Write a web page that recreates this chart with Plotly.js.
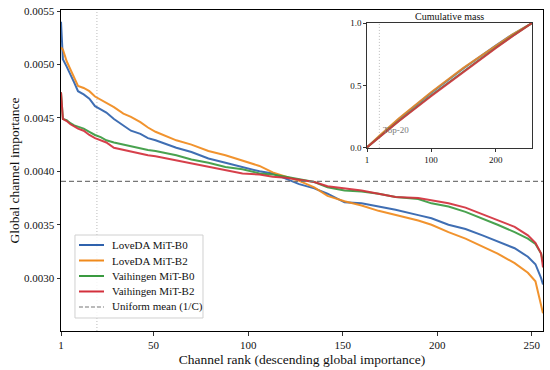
<!DOCTYPE html>
<html>
<head>
<meta charset="utf-8">
<script src="https://cdn.plot.ly/plotly-3.0.1.min.js"></script>
<style>html,body{margin:0;padding:0;background:#fff;}#chart{width:550px;height:370px;}</style>
</head>
<body>
<div id="chart"></div>
<script>
// ---- data ----
const seriesNames = ["LoveDA MiT-B0", "LoveDA MiT-B2", "Vaihingen MiT-B0", "Vaihingen MiT-B2"];
const uniformName = "Uniform mean (1/C)";
const ranks = [1,2,4,6,8,10,13,16,19,22,25,29,34,38,43,47,51,57,62,70,79,88,97,106,113,120,127,135,142,151,160,169,178,190,197,206,215,224,232,241,248,252,255,256];
const loveB0 = [0.00540,0.00505,0.00498,0.00491,0.00483,0.00475,0.00472,0.00468,0.00461,0.00458,0.00455,0.00449,0.00443,0.00438,0.00435,0.00431,0.00429,0.00425,0.00422,0.00418,0.00412,0.00408,0.00404,0.00400,0.00398,0.00393,0.00388,0.00384,0.00379,0.00371,0.00370,0.00367,0.00364,0.00359,0.00356,0.00350,0.00346,0.00340,0.00334,0.00328,0.00320,0.00313,0.00300,0.00294];
const loveB2 = [0.00516,0.00514,0.00503,0.00495,0.00487,0.00480,0.00478,0.00475,0.00470,0.00467,0.00464,0.00460,0.00454,0.00451,0.00446,0.00441,0.00437,0.00433,0.00429,0.00425,0.00419,0.00415,0.00410,0.00405,0.00399,0.00395,0.00391,0.00385,0.00377,0.00372,0.00368,0.00363,0.00359,0.00354,0.00350,0.00343,0.00337,0.00330,0.00323,0.00314,0.00305,0.00297,0.00275,0.00267];
const vaiB0 = [0.00474,0.00449,0.00448,0.00445,0.00443,0.00442,0.00440,0.00437,0.00434,0.00432,0.00429,0.00427,0.00425,0.00423,0.00421,0.00420,0.00419,0.00417,0.00415,0.00411,0.00408,0.00404,0.00402,0.00398,0.00397,0.00395,0.00393,0.00390,0.00385,0.00382,0.00381,0.00379,0.00376,0.00374,0.00370,0.00367,0.00362,0.00356,0.00350,0.00343,0.00337,0.00332,0.00323,0.00315];
const vaiB2 = [0.00474,0.00449,0.00447,0.00444,0.00442,0.00440,0.00438,0.00434,0.00431,0.00429,0.00427,0.00422,0.00420,0.00418,0.00416,0.00415,0.00414,0.00412,0.00410,0.00407,0.00404,0.00401,0.00398,0.00397,0.00395,0.00394,0.00392,0.00390,0.00386,0.00384,0.00382,0.00379,0.00376,0.00375,0.00373,0.00370,0.00366,0.00360,0.00354,0.00348,0.00340,0.00333,0.00323,0.00310];

// inset: cumulative mass
const cumRanks = [1,20,50,100,150,200,225,256];
const cumLoveB0 = [0.0054,0.096,0.231,0.441,0.637,0.820,0.907,1.0];
const cumLoveB2 = [0.0052,0.098,0.235,0.446,0.641,0.821,0.906,1.0];
const cumVaiB0 = [0.0047,0.089,0.216,0.420,0.615,0.803,0.894,1.0];
const cumVaiB2 = [0.0047,0.088,0.213,0.415,0.610,0.800,0.891,1.0];

const uniformMean = 1/256;
const topK = 20;
const xTicks = [1,50,100,150,200,250];
const yTicks = [0.0030,0.0035,0.0040,0.0045,0.0050,0.0055];

const colors = ["#2f62ad", "#f08a1c", "#3a9a40", "#d3303c"];
const FONT = "Liberation Serif";

const mainY = [loveB0, loveB2, vaiB0, vaiB2];
const cumY = [cumLoveB0, cumLoveB2, cumVaiB0, cumVaiB2];

const traces = [];
mainY.forEach((ys, i) => {
  traces.push({x: ranks, y: ys, type: "scatter", mode: "lines", name: seriesNames[i],
    line: {color: colors[i], width: 2}, opacity: 0.92, xaxis: "x", yaxis: "y", showlegend: false});
});
traces.push({x: [1, 256], y: [uniformMean, uniformMean], type: "scatter", mode: "lines",
  name: uniformName, line: {color: "#777", width: 1.2, dash: "5px,3px"}, xaxis: "x", yaxis: "y", showlegend: false});
cumY.forEach((ys, i) => {
  traces.push({x: cumRanks, y: ys, type: "scatter", mode: "lines", showlegend: false,
    line: {color: colors[i], width: 2}, opacity: 0.85, xaxis: "x2", yaxis: "y2"});
});

// compact legend (paper coordinates)
const legBox = {x0: 0.029, x1: 0.2946, y0: 0.0405, y1: 0.299};
const legRows = [0.2679, 0.2196, 0.1713, 0.1231, 0.0748];
const legNames = seriesNames.concat([uniformName]);
const legColors = colors.concat(["#777"]);
const shapes = [
  {type: "line", xref: "x", yref: "paper", x0: topK, x1: topK, y0: 0, y1: 1,
    line: {color: "#bbb", width: 1, dash: "1px,2px"}, layer: "below"},
  {type: "line", xref: "x2", yref: "y2", x0: topK, x1: topK, y0: 0, y1: 1,
    line: {color: "#bbb", width: 1, dash: "1px,2px"}, layer: "below"},
  {type: "rect", xref: "paper", yref: "paper", x0: legBox.x0, x1: legBox.x1, y0: legBox.y0, y1: legBox.y1,
    line: {color: "#d0d0d0", width: 1}, fillcolor: "rgba(255,255,255,0.85)", layer: "above"}
];
const annotations = [
  {text: "Cumulative mass", xref: "x2 domain", yref: "y2 domain", x: 0.5, y: 1, yanchor: "bottom",
    showarrow: false, font: {family: FONT, size: 10, color: "#111"}, yshift: -1},
  {text: "Top-20", xref: "x2", yref: "y2", x: topK + 3, y: 0.14, xanchor: "left", yanchor: "middle",
    showarrow: false, font: {family: FONT, size: 9, color: "#777"}}
];
legNames.forEach((nm, i) => {
  const isDash = i === legNames.length - 1;
  shapes.push({type: "line", xref: "paper", yref: "paper", x0: 0.0373, x1: 0.0892, y0: legRows[i], y1: legRows[i],
    line: {color: legColors[i], width: isDash ? 1.2 : 2, dash: isDash ? "4px,2px" : "solid"}, layer: "above"});
  annotations.push({text: nm, xref: "paper", yref: "paper", x: 0.1017, y: legRows[i], xanchor: "left", yanchor: "middle",
    showarrow: false, font: {family: FONT, size: 11, color: "#111"}});
});

const layout = {
  width: 550, height: 370,
  margin: {l: 61, r: 7, t: 10, b: 39},
  paper_bgcolor: "#fff", plot_bgcolor: "#fff",
  font: {family: FONT, size: 11, color: "#111"},
  showlegend: false,
  xaxis: {domain: [0, 1], range: [1, 256], tickvals: xTicks, ticktext: xTicks.map(String),
    showgrid: false, zeroline: false, showline: true, linecolor: "#000", linewidth: 1, mirror: true,
    ticks: "outside", ticklen: 3.5, tickwidth: 0.8, tickcolor: "#000",
    tickfont: {family: FONT, size: 11},
    title: {text: "Channel rank (descending global importance)", font: {family: FONT, size: 13.5}, standoff: 4}},
  yaxis: {domain: [0, 1], range: [0.002505, 0.00551], tickvals: yTicks, tickformat: ".4f",
    showgrid: false, zeroline: false, showline: true, linecolor: "#000", linewidth: 1, mirror: true,
    ticks: "outside", ticklen: 3.5, tickwidth: 0.8, tickcolor: "#000",
    tickfont: {family: FONT, size: 11},
    title: {text: "Global channel importance", font: {family: FONT, size: 13.5}, standoff: 1}},
  xaxis2: {domain: [0.635, 0.977], anchor: "y2", range: [1, 256], tickvals: [1, 100, 200],
    showgrid: false, zeroline: false, showline: true, linecolor: "#000", linewidth: 0.8, mirror: true,
    ticks: "outside", ticklen: 3, tickwidth: 0.8, tickcolor: "#000", tickfont: {family: FONT, size: 9}},
  yaxis2: {domain: [0.570, 0.9595], anchor: "x2", range: [-0.001, 1.001], tickvals: [0, 0.5, 1], tickformat: ".1f",
    showgrid: false, zeroline: false, showline: true, linecolor: "#000", linewidth: 0.8, mirror: true,
    ticks: "outside", ticklen: 3, tickwidth: 0.8, tickcolor: "#000", tickfont: {family: FONT, size: 9}},
  shapes: shapes,
  annotations: annotations
};

Plotly.newPlot("chart", traces, layout, {displayModeBar: false, staticPlot: true});
</script>
</body>
</html>
